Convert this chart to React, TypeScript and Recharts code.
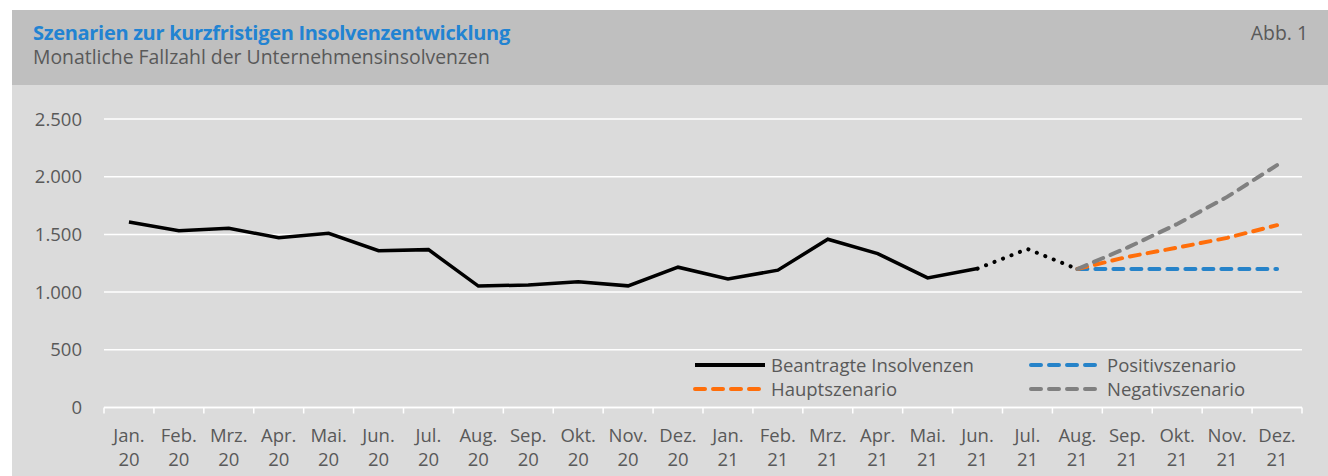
import { LineChart, Line, XAxis, YAxis, CartesianGrid } from "recharts";

const monthLabels = ["Jan.", "Feb.", "Mrz.", "Apr.", "Mai.", "Jun.", "Jul.", "Aug.", "Sep.", "Okt.", "Nov.", "Dez.",
  "Jan.", "Feb.", "Mrz.", "Apr.", "Mai.", "Jun.", "Jul.", "Aug.", "Sep.", "Okt.", "Nov.", "Dez."];
const yearLabels = ["20", "20", "20", "20", "20", "20", "20", "20", "20", "20", "20", "20",
  "21", "21", "21", "21", "21", "21", "21", "21", "21", "21", "21", "21"];

// beantragte Insolvenzen (Ist-Werte)
const actual = [1607, 1532, 1553, 1471, 1509, 1359, 1368, 1052, 1062, 1090, 1054, 1216,
  1114, 1190, 1458, 1334, 1123, 1204, null, null, null, null, null, null];
// Schätzung Jul./Aug. 21 (gepunktet)
const estimate = [null, null, null, null, null, null, null, null, null, null, null, null,
  null, null, null, null, null, 1204, 1374, 1200, null, null, null, null];
const positiv = [null, null, null, null, null, null, null, null, null, null, null, null,
  null, null, null, null, null, null, null, 1200, 1200, 1200, 1200, 1200];
const haupt = [null, null, null, null, null, null, null, null, null, null, null, null,
  null, null, null, null, null, null, null, 1200, 1305, 1385, 1470, 1580];
const negativ = [null, null, null, null, null, null, null, null, null, null, null, null,
  null, null, null, null, null, null, null, 1200, 1385, 1590, 1825, 2100];

const yTicks = [0, 500, 1000, 1500, 2000, 2500];

const data = monthLabels.map((m, i) => ({
  month: `${m} ${yearLabels[i]}`,
  actual: actual[i],
  estimate: estimate[i],
  positiv: positiv[i],
  haupt: haupt[i],
  negativ: negativ[i],
}));

const W = 1328;
const H = 476;
const PLOT_LEFT = 104;
const PLOT_RIGHT = 1302;
const PLOT_TOP = 119;
const PLOT_BOTTOM = 407.5;
const BAND = (PLOT_RIGHT - PLOT_LEFT) / monthLabels.length;
const FONT = "'Open Sans', 'Noto Sans', sans-serif";
const TEXT = "#595959";

const fmt = (v: number) => String(v).replace(/\B(?=(\d{3})+(?!\d))/g, ".");

const MonthTick = (props: any) => {
  const { x, y, payload, index } = props;
  const i = payload?.index ?? index;
  const last = i === monthLabels.length - 1;
  return (
    <g>
      <line x1={x - BAND / 2} x2={x - BAND / 2} y1={y} y2={y + 6} stroke="#fff" strokeWidth={1.5} />
      {last && <line x1={x + BAND / 2} x2={x + BAND / 2} y1={y} y2={y + 6} stroke="#fff" strokeWidth={1.5} />}
      <text x={x} y={y + 34} textAnchor="middle" fill={TEXT} fontSize={18.5} fontFamily={FONT}>
        {monthLabels[i]}
      </text>
      <text x={x} y={y + 58} textAnchor="middle" fill={TEXT} fontSize={18.5} fontFamily={FONT}>
        {yearLabels[i]}
      </text>
    </g>
  );
};

const legendItems = [
  { label: "Beantragte Insolvenzen", color: "#000", dash: false },
  { label: "Positivszenario", color: "#2683c9", dash: true },
  { label: "Hauptszenario", color: "#ff6e0a", dash: true },
  { label: "Negativszenario", color: "#808080", dash: true },
];

const LegendBox = () => (
  <div
    style={{
      display: "grid",
      gridTemplateColumns: "336px 240px",
      fontFamily: FONT,
      fontSize: 18.5,
      color: TEXT,
      lineHeight: "24px",
    }}
  >
    {legendItems.map((it) => (
      <div key={it.label} style={{ display: "flex", alignItems: "center" }}>
        <svg width={76} height={10} style={{ marginRight: 3 }}>
          <line
            x1={3}
            x2={73}
            y1={5}
            y2={5}
            stroke={it.color}
            strokeWidth={4}
            strokeLinecap={it.dash ? "round" : "butt"}
            strokeDasharray={it.dash ? "10 8" : undefined}
          />
        </svg>
        <span>{it.label}</span>
      </div>
    ))}
  </div>
);

export default function App() {
  return (
    <div style={{ position: "absolute", left: 0, top: 0, width: W, height: H, background: "#fff", overflow: "hidden" }}>
      <div style={{ position: "absolute", left: 12, top: 10, width: W - 12, height: 75, background: "#bfbfbf" }} />
      <div style={{ position: "absolute", left: 12, top: 85, width: W - 12, height: H - 85, background: "#dbdbdb" }} />
      <div
        style={{
          position: "absolute",
          left: 33,
          top: 21,
          fontFamily: FONT,
          fontSize: 20,
          fontWeight: 700,
          color: "#2283d2",
          lineHeight: "24px",
          letterSpacing: -0.3,
        }}
      >
        Szenarien zur kurzfristigen Insolvenzentwicklung
      </div>
      <div
        style={{
          position: "absolute",
          left: 33,
          top: 45,
          fontFamily: FONT,
          fontSize: 19.4,
          color: TEXT,
          lineHeight: "24px",
        }}
      >
        Monatliche Fallzahl der Unternehmensinsolvenzen
      </div>
      <div
        style={{
          position: "absolute",
          right: 20,
          top: 21,
          fontFamily: FONT,
          fontSize: 19.4,
          color: TEXT,
          lineHeight: "24px",
        }}
      >
        Abb. 1
      </div>
      <div style={{ position: "absolute", left: 0, top: 0 }}>
        <LineChart
          width={W}
          height={H}
          data={data}
          margin={{ top: PLOT_TOP, right: W - PLOT_RIGHT, bottom: 0, left: 0 }}
        >
          <CartesianGrid horizontal vertical={false} stroke="#fff" strokeWidth={1.5} />
          <XAxis
            dataKey="month"
            interval={0}
            padding={{ left: BAND / 2, right: BAND / 2 }}
            axisLine={{ stroke: "#fff", strokeWidth: 1.5 }}
            tickLine={false}
            tickSize={0}
            tickMargin={0}
            tick={<MonthTick />}
            height={H - PLOT_BOTTOM}
          />
          <YAxis
            domain={[0, 2500]}
            ticks={yTicks}
            width={PLOT_LEFT}
            axisLine={false}
            tickLine={false}
            tickSize={0}
            tickMargin={22}
            tickFormatter={fmt}
            tick={{ fill: TEXT, fontSize: 18.5, fontFamily: FONT }}
          />
          <Line dataKey="actual" stroke="#000" strokeWidth={3.5} dot={false} isAnimationActive={false} />
          <Line
            dataKey="estimate"
            stroke="#000"
            strokeWidth={4}
            strokeDasharray="0.1 9"
            strokeLinecap="round"
            dot={false}
            isAnimationActive={false}
          />
          <Line
            dataKey="positiv"
            stroke="#2683c9"
            strokeWidth={4}
            strokeDasharray="10 8"
            strokeLinecap="round"
            dot={false}
            isAnimationActive={false}
          />
          <Line
            dataKey="haupt"
            stroke="#ff6e0a"
            strokeWidth={4}
            strokeDasharray="10 8"
            strokeLinecap="round"
            dot={false}
            isAnimationActive={false}
          />
          <Line
            dataKey="negativ"
            stroke="#808080"
            strokeWidth={4}
            strokeDasharray="10 8"
            strokeLinecap="round"
            dot={false}
            isAnimationActive={false}
          />
        </LineChart>
      </div>
      <div style={{ position: "absolute", left: 692, top: 353 }}>
        <LegendBox />
      </div>
    </div>
  );
}
